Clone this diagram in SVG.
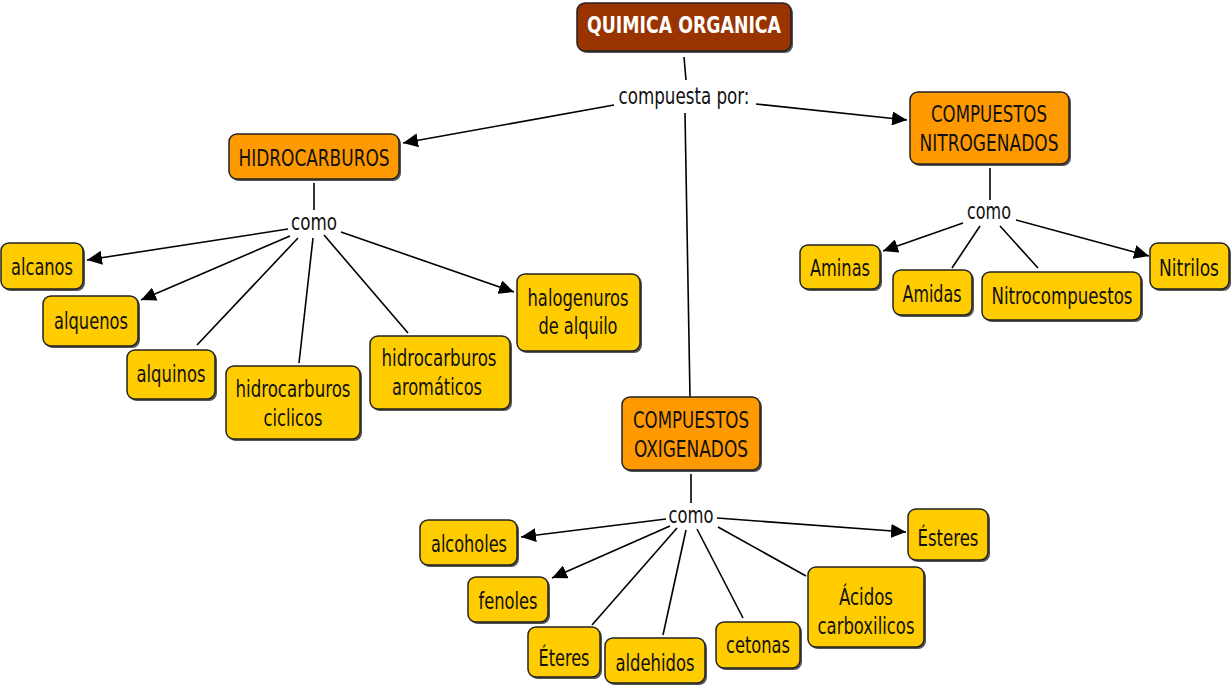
<svg xmlns="http://www.w3.org/2000/svg" width="1232" height="686" viewBox="0 0 1232 686">
<defs>
<marker id="arr" markerUnits="userSpaceOnUse" markerWidth="16" markerHeight="14" refX="15" refY="7" orient="auto">
<path d="M0,0 L15,7 L0,14 Z" fill="#000"/>
</marker>
<style>
.t{font-family:"DejaVu Sans Condensed","DejaVu Sans",sans-serif;font-size:23px;fill:#111;text-anchor:middle}
.tb{font-family:"DejaVu Sans Condensed","DejaVu Sans",sans-serif;font-size:23px;font-weight:bold;fill:#fff;text-anchor:middle}
.sh{fill:#555}
.y{fill:#FFCC00;stroke:#222;stroke-width:1.5}
.o{fill:#FF9900;stroke:#222;stroke-width:1.5}
.b{fill:#993300;stroke:#222;stroke-width:1.5}
.c{stroke:#000;stroke-width:1.6;fill:none}
.a{marker-end:url(#arr)}
</style>
</defs>
<rect width="1232" height="686" fill="#fff"/>
<g id="connectors">
<line class="c" x1="684" y1="57" x2="686" y2="80"/>
<line class="c a" x1="614" y1="105" x2="403" y2="143"/>
<line class="c a" x1="756" y1="104" x2="907" y2="120"/>
<line class="c" x1="685" y1="113" x2="690" y2="397"/>
<line class="c" x1="314" y1="183" x2="314" y2="210"/>
<line class="c a" x1="288" y1="229" x2="87" y2="260"/>
<line class="c a" x1="290" y1="236" x2="141" y2="300"/>
<line class="c" x1="298" y1="238" x2="197" y2="345"/>
<line class="c" x1="313" y1="238" x2="299" y2="363"/>
<line class="c" x1="324" y1="235" x2="408" y2="333"/>
<line class="c a" x1="341" y1="232" x2="514" y2="292"/>
<line class="c" x1="691" y1="474" x2="691" y2="503"/>
<line class="c a" x1="666" y1="519" x2="521" y2="537"/>
<line class="c a" x1="670" y1="526" x2="552" y2="578"/>
<line class="c" x1="677" y1="528" x2="592" y2="625"/>
<line class="c" x1="686" y1="530" x2="663" y2="635"/>
<line class="c" x1="697" y1="529" x2="743" y2="618"/>
<line class="c" x1="718" y1="527" x2="806" y2="576"/>
<line class="c a" x1="717" y1="518" x2="906" y2="532"/>
<line class="c" x1="990" y1="168" x2="990" y2="200"/>
<line class="c a" x1="963" y1="223" x2="883" y2="251"/>
<line class="c" x1="980" y1="226" x2="952" y2="268"/>
<line class="c" x1="1000" y1="226" x2="1038" y2="268"/>
<line class="c a" x1="1016" y1="220" x2="1149" y2="256"/>
</g>
<g id="quimica">
<rect class="sh" x="579" y="5" width="214" height="48" rx="8"/>
<rect class="b" x="577" y="3" width="214" height="48" rx="8"/>
<text class="tb" x="684" y="33" textLength="194" lengthAdjust="spacingAndGlyphs">QUIMICA ORGANICA</text>
</g>
<g id="compuesta">
<text class="t" x="684" y="104" textLength="131" lengthAdjust="spacingAndGlyphs">compuesta por:</text>
</g>
<g id="hidrocarburos">
<rect class="sh" x="231" y="136" width="170" height="45" rx="8"/>
<rect class="o" x="229" y="134" width="170" height="45" rx="8"/>
<text class="t" x="314" y="166" textLength="151" lengthAdjust="spacingAndGlyphs">HIDROCARBUROS</text>
</g>
<g id="nitrogenados">
<rect class="sh" x="912" y="94" width="159" height="72" rx="8"/>
<rect class="o" x="910" y="92" width="159" height="72" rx="8"/>
<text class="t" x="989" y="122" textLength="116" lengthAdjust="spacingAndGlyphs">COMPUESTOS</text>
<text class="t" x="989" y="151" textLength="139" lengthAdjust="spacingAndGlyphs">NITROGENADOS</text>
</g>
<g id="como1"><text class="t" x="314" y="230" textLength="46" lengthAdjust="spacingAndGlyphs">como</text></g>
<g id="alcanos">
<rect class="sh" x="3" y="245" width="82" height="46" rx="8"/>
<rect class="y" x="1" y="243" width="82" height="46" rx="8"/>
<text class="t" x="42" y="275" textLength="62" lengthAdjust="spacingAndGlyphs">alcanos</text>
</g>
<g id="alquenos">
<rect class="sh" x="45" y="298" width="95" height="50" rx="8"/>
<rect class="y" x="43" y="296" width="95" height="50" rx="8"/>
<text class="t" x="91" y="329" textLength="74" lengthAdjust="spacingAndGlyphs">alquenos</text>
</g>
<g id="alquinos">
<rect class="sh" x="129" y="352" width="88" height="49" rx="8"/>
<rect class="y" x="127" y="350" width="88" height="49" rx="8"/>
<text class="t" x="171" y="382" textLength="69" lengthAdjust="spacingAndGlyphs">alquinos</text>
</g>
<g id="ciclicos">
<rect class="sh" x="228" y="368" width="134" height="73" rx="8"/>
<rect class="y" x="226" y="366" width="134" height="73" rx="8"/>
<text class="t" x="293" y="397" textLength="115" lengthAdjust="spacingAndGlyphs">hidrocarburos</text>
<text class="t" x="293" y="426" textLength="59" lengthAdjust="spacingAndGlyphs">ciclicos</text>
</g>
<g id="aromaticos">
<rect class="sh" x="372" y="338" width="140" height="73" rx="8"/>
<rect class="y" x="370" y="336" width="140" height="73" rx="8"/>
<text class="t" x="439" y="366" textLength="115" lengthAdjust="spacingAndGlyphs">hidrocarburos</text>
<text class="t" x="437" y="395" textLength="90" lengthAdjust="spacingAndGlyphs">aromáticos</text>
</g>
<g id="halogenuros">
<rect class="sh" x="519" y="276" width="123" height="77" rx="8"/>
<rect class="y" x="517" y="274" width="123" height="77" rx="8"/>
<text class="t" x="578" y="306" textLength="101" lengthAdjust="spacingAndGlyphs">halogenuros</text>
<text class="t" x="578" y="334" textLength="79" lengthAdjust="spacingAndGlyphs">de alquilo</text>
</g>
<g id="oxigenados">
<rect class="sh" x="624" y="399" width="138" height="73" rx="8"/>
<rect class="o" x="622" y="397" width="138" height="73" rx="8"/>
<text class="t" x="691" y="428" textLength="116" lengthAdjust="spacingAndGlyphs">COMPUESTOS</text>
<text class="t" x="691" y="457" textLength="114" lengthAdjust="spacingAndGlyphs">OXIGENADOS</text>
</g>
<g id="como2"><text class="t" x="691" y="523" textLength="45" lengthAdjust="spacingAndGlyphs">como</text></g>
<g id="alcoholes">
<rect class="sh" x="422" y="522" width="97" height="45" rx="8"/>
<rect class="y" x="420" y="520" width="97" height="45" rx="8"/>
<text class="t" x="469" y="552" textLength="76" lengthAdjust="spacingAndGlyphs">alcoholes</text>
</g>
<g id="fenoles">
<rect class="sh" x="470" y="579" width="80" height="45" rx="8"/>
<rect class="y" x="468" y="577" width="80" height="45" rx="8"/>
<text class="t" x="508" y="609" textLength="59" lengthAdjust="spacingAndGlyphs">fenoles</text>
</g>
<g id="eteres">
<rect class="sh" x="530" y="629" width="72" height="50" rx="8"/>
<rect class="y" x="528" y="627" width="72" height="50" rx="8"/>
<text class="t" x="564" y="666" textLength="51" lengthAdjust="spacingAndGlyphs">Éteres</text>
</g>
<g id="aldehidos">
<rect class="sh" x="607" y="640" width="100" height="45" rx="8"/>
<rect class="y" x="605" y="638" width="100" height="45" rx="8"/>
<text class="t" x="655" y="671" textLength="79" lengthAdjust="spacingAndGlyphs">aldehidos</text>
</g>
<g id="cetonas">
<rect class="sh" x="718" y="624" width="84" height="46" rx="8"/>
<rect class="y" x="716" y="622" width="84" height="46" rx="8"/>
<text class="t" x="758" y="653" textLength="64" lengthAdjust="spacingAndGlyphs">cetonas</text>
</g>
<g id="acidos">
<rect class="sh" x="810" y="569" width="116" height="80" rx="8"/>
<rect class="y" x="808" y="567" width="116" height="80" rx="8"/>
<text class="t" x="866" y="605" textLength="54" lengthAdjust="spacingAndGlyphs">Ácidos</text>
<text class="t" x="866" y="634" textLength="97" lengthAdjust="spacingAndGlyphs">carboxilicos</text>
</g>
<g id="esteres">
<rect class="sh" x="910" y="511" width="80" height="51" rx="8"/>
<rect class="y" x="908" y="509" width="80" height="51" rx="8"/>
<text class="t" x="948" y="546" textLength="61" lengthAdjust="spacingAndGlyphs">Ésteres</text>
</g>
<g id="como3"><text class="t" x="989" y="219" textLength="44" lengthAdjust="spacingAndGlyphs">como</text></g>
<g id="aminas">
<rect class="sh" x="802" y="247" width="80" height="44" rx="8"/>
<rect class="y" x="800" y="245" width="80" height="44" rx="8"/>
<text class="t" x="840" y="276" textLength="60" lengthAdjust="spacingAndGlyphs">Aminas</text>
</g>
<g id="amidas">
<rect class="sh" x="895" y="272" width="79" height="45" rx="8"/>
<rect class="y" x="893" y="270" width="79" height="45" rx="8"/>
<text class="t" x="932" y="302" textLength="59" lengthAdjust="spacingAndGlyphs">Amidas</text>
</g>
<g id="nitrocompuestos">
<rect class="sh" x="984" y="274" width="159" height="48" rx="8"/>
<rect class="y" x="982" y="272" width="159" height="48" rx="8"/>
<text class="t" x="1062" y="304" textLength="141" lengthAdjust="spacingAndGlyphs">Nitrocompuestos</text>
</g>
<g id="nitrilos">
<rect class="sh" x="1152" y="245" width="79" height="46" rx="8"/>
<rect class="y" x="1150" y="243" width="79" height="46" rx="8"/>
<text class="t" x="1189" y="276" textLength="60" lengthAdjust="spacingAndGlyphs">Nitrilos</text>
</g>
</svg>
